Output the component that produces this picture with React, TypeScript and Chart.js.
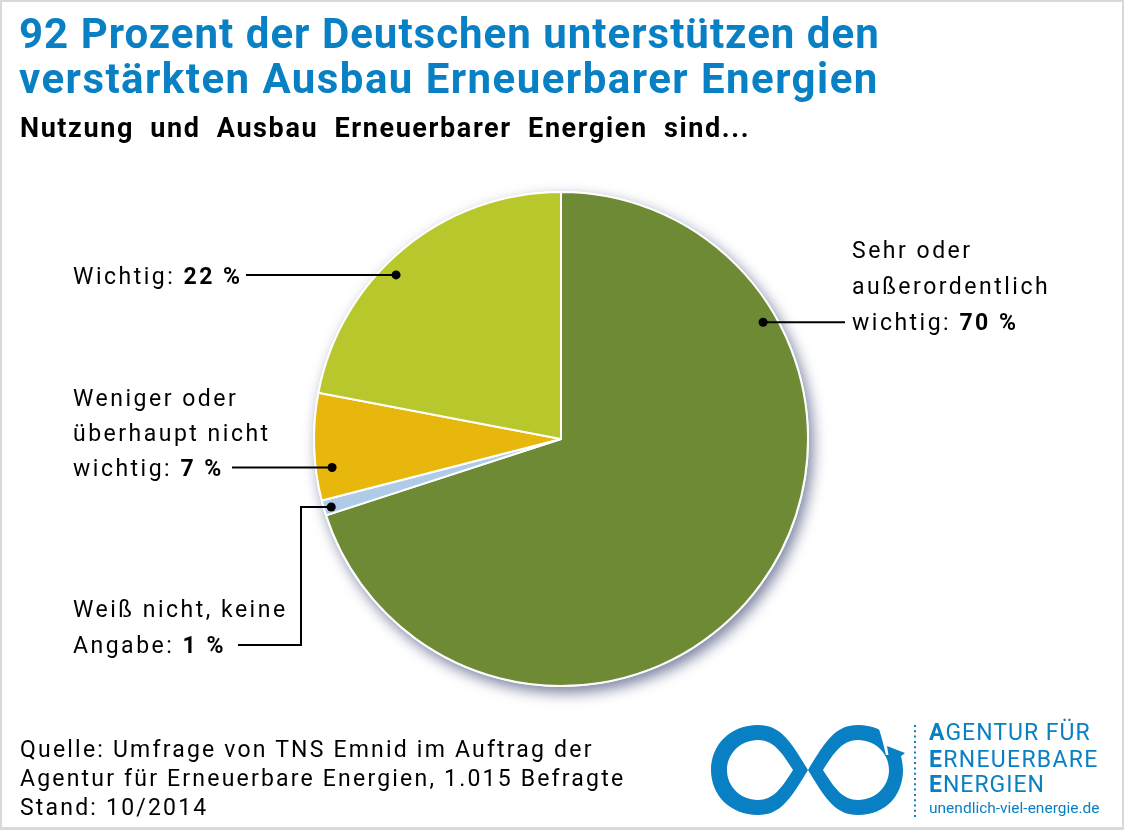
import React, { useEffect, useRef } from "react";
import { Chart, registerables } from "chart.js";

Chart.register(...registerables);

// ---- Data ----
const categories = [
  "Sehr oder außerordentlich wichtig",
  "Weiß nicht, keine Angabe",
  "Weniger oder überhaupt nicht wichtig",
  "Wichtig",
];
const shares = [70, 1, 7, 22];
const sliceColors = ["#6e8a35", "#b0cbe8", "#e8b70b", "#b8c72b"];

// Leader-line anchors (position within each slice) – styling, not data
const anchorFrac = [0.238, 0.42, 0.29, 0.43];
const anchorRadius = [0.945, 0.97, 0.934, 0.942];

const FONT = "Roboto, 'DejaVu Sans', sans-serif";
const BLUE = "#0a80c4";

const shadowPlugin = {
  id: "pieShadow",
  beforeDatasetsDraw(chart: any) {
    const arc = chart.getDatasetMeta(0).data[0];
    if (!arc) return;
    const { x, y, outerRadius } = arc.getProps(["x", "y", "outerRadius"], true);
    const ctx = chart.ctx;
    ctx.save();
    ctx.shadowColor = "rgba(40,50,100,0.6)";
    ctx.shadowBlur = 14;
    ctx.shadowOffsetX = 4;
    ctx.shadowOffsetY = 6;
    ctx.beginPath();
    ctx.arc(x, y, outerRadius + 1, 0, Math.PI * 2);
    ctx.fillStyle = "#ffffff";
    ctx.fill();
    ctx.restore();
  },
};

const leaderPlugin = {
  id: "leaders",
  afterDatasetsDraw(chart: any) {
    const arcs = chart.getDatasetMeta(0).data;
    const ctx = chart.ctx;
    const pts = arcs.map((a: any, i: number) => {
      const { x, y, startAngle, endAngle, outerRadius } = a.getProps(
        ["x", "y", "startAngle", "endAngle", "outerRadius"],
        true
      );
      const ang = startAngle + (endAngle - startAngle) * anchorFrac[i];
      const r = outerRadius * anchorRadius[i];
      return { x: x + Math.cos(ang) * r, y: y + Math.sin(ang) * r };
    });
    ctx.save();
    ctx.strokeStyle = "#000";
    ctx.lineWidth = 2;
    ctx.fillStyle = "#000";
    const paths: number[][][] = [
      [[pts[0].x, pts[0].y], [845, pts[0].y]],
      [[pts[1].x, pts[1].y], [301, pts[1].y], [301, 645], [238, 645]],
      [[pts[2].x, pts[2].y], [232, pts[2].y]],
      [[pts[3].x, pts[3].y], [246, pts[3].y]],
    ];
    paths.forEach((p) => {
      ctx.beginPath();
      ctx.moveTo(p[0][0], p[0][1]);
      for (let k = 1; k < p.length; k++) ctx.lineTo(p[k][0], p[k][1]);
      ctx.stroke();
    });
    pts.forEach((p: any) => {
      ctx.beginPath();
      ctx.arc(p.x, p.y, 4.5, 0, Math.PI * 2);
      ctx.fill();
    });
    ctx.restore();
  },
};

function PieChart() {
  const ref = useRef<HTMLCanvasElement>(null);
  useEffect(() => {
    if (!ref.current) return;
    const chart = new Chart(ref.current, {
      type: "pie",
      data: {
        labels: categories,
        datasets: [
          {
            data: shares,
            backgroundColor: sliceColors,
            borderColor: "#ffffff",
            borderWidth: 2,
            hoverOffset: 0,
          },
        ],
      },
      options: {
        animation: false,
        responsive: false,
        radius: 247,
        layout: { padding: { left: 0, right: 2, top: 48, bottom: 0 } },
        plugins: {
          legend: { display: false },
          tooltip: { enabled: false },
        },
        events: [],
      } as any,
      plugins: [shadowPlugin, leaderPlugin],
    });
    return () => chart.destroy();
  }, []);
  return (
    <canvas
      ref={ref}
      width={1124}
      height={830}
      style={{ position: "absolute", left: 0, top: 0, width: 1124, height: 830 }}
    />
  );
}

const labelStyle: React.CSSProperties = {
  position: "absolute",
  fontFamily: FONT,
  fontSize: 23,
  letterSpacing: 2.5,
  color: "#000",
  whiteSpace: "nowrap",
};

function Logo() {
  const loops =
    "M 108 55 C 90 25, 80 10, 58 10 C 30 10, 11 30, 11 55 C 11 80, 30 100, 58 100 C 80 100, 90 85, 108 55 Z " +
    "M 93 55 C 81 36, 73 25, 58 25 C 40 25, 27 39, 27 55 C 27 71, 40 85, 58 85 C 73 85, 81 74, 93 55 Z " +
    "M 108 55 C 126 25, 136 10, 158 10 C 186 10, 203 30, 203 55 C 203 80, 186 100, 158 100 C 136 100, 126 85, 108 55 Z " +
    "M 123 55 C 135 36, 143 25, 158 25 C 176 25, 189 39, 189 55 C 189 71, 176 85, 158 85 C 143 85, 135 74, 123 55 Z";
  return (
    <>
      <svg
        width={220}
        height={110}
        style={{ position: "absolute", left: 700, top: 715 }}
      >
        <path d={loops} fill={BLUE} fillRule="evenodd" />
        <polygon points="176,4 212,4 212,40 186,40 182,24" fill="#ffffff" />
        <polygon points="187,31 205,38 190,50" fill={BLUE} />
        <line
          x1={215}
          y1={10}
          x2={215}
          y2={104}
          stroke={BLUE}
          strokeWidth={2}
          strokeDasharray="2 3.3"
        />
      </svg>
      {[
        ["A", "GENTUR FÜR", 720, 1.0],
        ["E", "RNEUERBARE", 747, 1.3],
        ["E", "NERGIEN", 772, 1.0],
      ].map(([a, b, t, ls]) => (
        <div
          key={String(t)}
          style={{
            position: "absolute",
            left: 929,
            top: t as number,
            fontFamily: FONT,
            fontSize: 23,
            lineHeight: "26px",
            letterSpacing: ls as number,
            color: BLUE,
            whiteSpace: "nowrap",
          }}
        >
          <span style={{ fontWeight: 700 }}>{a}</span>
          <span>{b}</span>
        </div>
      ))}
      <div
        style={{
          position: "absolute",
          left: 929,
          top: 798,
          fontFamily: FONT,
          fontSize: 15.5,
          lineHeight: "20px",
          color: BLUE,
          whiteSpace: "nowrap",
        }}
      >
        unendlich-viel-energie.de
      </div>
    </>
  );
}

export default function App() {
  return (
    <div
      style={{
        position: "fixed",
        left: 0,
        top: 0,
        width: 1124,
        height: 830,
        background: "#fff",
        overflow: "hidden",
      }}
    >
      <PieChart />
      <div
        style={{
          position: "absolute",
          left: 19,
          top: 11,
          fontFamily: FONT,
          fontWeight: 700,
          fontSize: 42,
          lineHeight: "45px",
          color: BLUE,
          whiteSpace: "nowrap",
        }}
      >
        <span style={{ letterSpacing: 1 }}>
          92 Prozent der Deutschen unterstützen den
        </span>
        <br />
        <span style={{ letterSpacing: 1.45 }}>
          verstärkten Ausbau Erneuerbarer Energien
        </span>
      </div>
      <div
        style={{
          position: "absolute",
          left: 20,
          top: 111,
          fontFamily: FONT,
          fontWeight: 700,
          fontSize: 27,
          lineHeight: "34px",
          color: "#000",
          whiteSpace: "nowrap",
          letterSpacing: 1.6,
          wordSpacing: 8,
        }}
      >
        Nutzung und Ausbau Erneuerbarer Energien sind...
      </div>

      <div style={{ ...labelStyle, left: 852, top: 233, lineHeight: "36px" }}>
        Sehr oder
        <br />
        außerordentlich
        <br />
        wichtig: <b>70 %</b>
      </div>
      <div style={{ ...labelStyle, left: 73, top: 259, lineHeight: "36px" }}>
        Wichtig: <b>22 %</b>
      </div>
      <div style={{ ...labelStyle, left: 73, top: 381, lineHeight: "35px" }}>
        Weniger oder
        <br />
        überhaupt nicht
        <br />
        wichtig: <b>7 %</b>
      </div>
      <div style={{ ...labelStyle, left: 73, top: 592, lineHeight: "36px" }}>
        Weiß nicht, keine
        <br />
        Angabe: <b>1 %</b>
      </div>

      <div
        style={{
          position: "absolute",
          left: 20,
          top: 735,
          fontFamily: FONT,
          fontSize: 23,
          lineHeight: "29px",
          letterSpacing: 2.2,
          color: "#000",
          whiteSpace: "nowrap",
        }}
      >
        Quelle: Umfrage von TNS Emnid im Auftrag der
        <br />
        Agentur für Erneuerbare Energien, 1.015 Befragte
        <br />
        Stand: 10/2014
      </div>
      <Logo />
      <div
        style={{
          position: "absolute",
          left: 0,
          top: 0,
          width: 1124,
          height: 830,
          boxSizing: "border-box",
          borderStyle: "solid",
          borderColor: "#d9d9d9",
          borderWidth: "2px 2px 3px 2px",
          pointerEvents: "none",
        }}
      />
    </div>
  );
}
